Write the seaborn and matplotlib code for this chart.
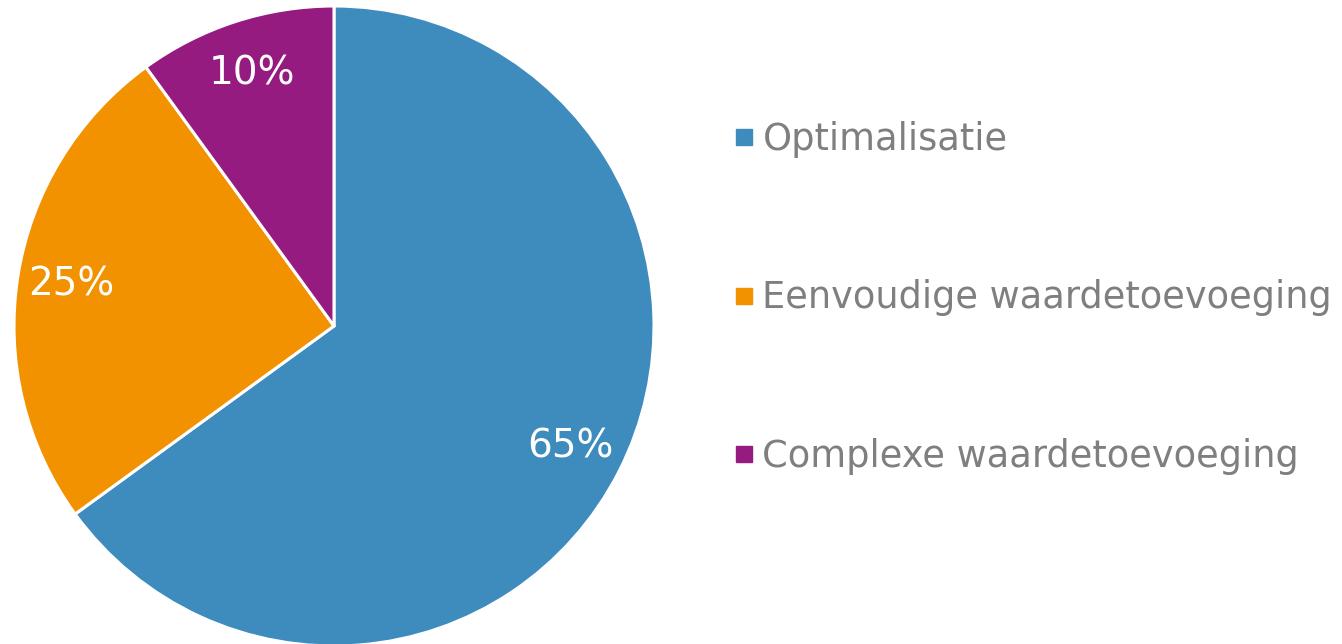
import matplotlib
matplotlib.use("Agg")
import matplotlib.pyplot as plt
from matplotlib.lines import Line2D
import seaborn as sns

categories = ["Optimalisatie", "Eenvoudige waardetoevoeging", "Complexe waardetoevoeging"]
values = [65, 25, 10]
colors = ["#3E8BBE", "#F39200", "#951B81"]

sns.set_style("white")
plt.rcParams['font.family'] = ['DejaVu Sans']

W, H = 1342, 644
fig = plt.figure(figsize=(W / 100, H / 100), dpi=100)
cx, cy, r = 334, 326, 320
ax = fig.add_axes([(cx - r) / W, (H - cy - r) / H, 2 * r / W, 2 * r / H])
wedges, texts, autotexts = ax.pie(
    values, colors=colors, startangle=90, counterclock=False, radius=1,
    autopct=lambda p: f"{p:.0f}%", pctdistance=0.83,
    wedgeprops=dict(edgecolor="white", linewidth=2.2),
    textprops=dict(color="white", fontsize=28),
)
ax.set_xlim(-1, 1)
ax.set_ylim(-1, 1)
ax.set_aspect("equal")
ax.axis("off")

handles = [Line2D([0], [0], marker="s", linestyle="none", markersize=11,
                  markerfacecolor=c, markeredgecolor=c) for c in colors]
fig.legend(handles, categories, loc="center left", bbox_to_anchor=(733 / W, 1 - 298 / H),
           frameon=False, fontsize=26.5, labelcolor="#7F7F7F", labelspacing=3.3,
           handlelength=0.6, handletextpad=0.2, borderaxespad=0, borderpad=0)

fig.savefig("out.png", dpi=100)
